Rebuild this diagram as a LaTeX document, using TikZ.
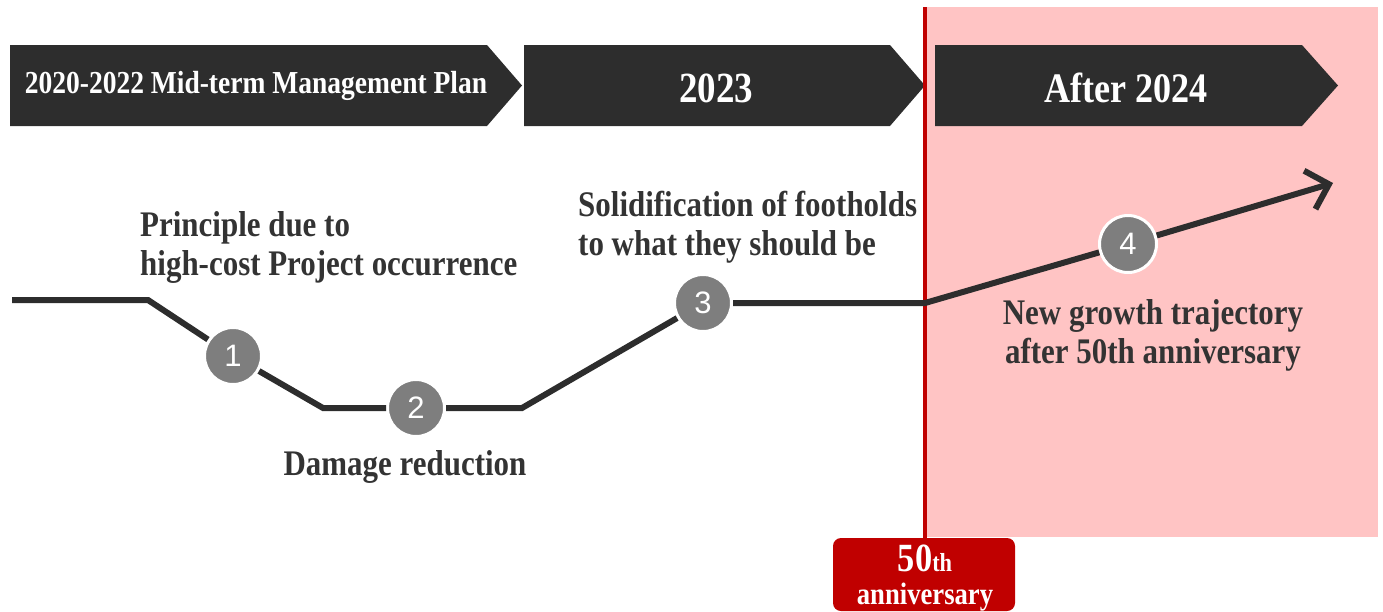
\documentclass[tikz,border=0pt]{standalone}
\usepackage{fontspec}
\setmainfont{Liberation Serif}[FakeStretch=0.86]
\newfontfamily\numfont{Liberation Sans}
\usetikzlibrary{positioning,arrows.meta}

\definecolor{bannergray}{HTML}{2D2D2D}
\definecolor{stepgray}{HTML}{7E7E7E}
\definecolor{annivred}{HTML}{C00000}
\definecolor{pinkzone}{HTML}{FFC4C4}
\definecolor{textgray}{HTML}{333333}

\tikzset{
  bannertext/.style={text=white,font=\bfseries\fontsize{32}{34}\selectfont,inner sep=0pt},
  steplabel/.style={text=textgray,font=\bfseries\fontsize{36}{39}\selectfont,inner sep=0pt},
  stepnum/.style={circle,fill=stepgray,draw=white,line width=3pt,minimum size=57pt,inner sep=0pt,
    text=white,font=\numfont\fontsize{31}{31}\selectfont},
  trend/.style={draw=bannergray,line width=6pt}
}

\begin{document}
\begin{tikzpicture}[x=1pt,y=-1pt]
  \useasboundingbox (0,0) rectangle (1383,611);

  % pink zone after the anniversary
  \fill[pinkzone] (925,7) rectangle (1378,537);

  % banners
  \fill[bannergray] (10,45) -- (487,45) -- (522,85.5) -- (487,126) -- (10,126) -- cycle;
  \fill[bannergray] (524,45) -- (890,45) -- (925,85.5) -- (890,126) -- (524,126) -- cycle;
  \fill[bannergray] (935,45) -- (1302,45) -- (1338,85.5) -- (1302,126) -- (935,126) -- cycle;
  \node[bannertext] (plan) at (256,86) {2020-2022 Mid-term Management Plan};
  \node[bannertext,font=\bfseries\fontsize{43}{44}\selectfont] (y2023) at (716,88) {2023};
  \node[bannertext,font=\bfseries\fontsize{42}{44}\selectfont] (y2024) at (1126,88) {After 2024};

  % 50th anniversary marker
  \draw[annivred,line width=4pt] (925,7) -- (925,545);
  \fill[annivred,rounded corners=8pt] (833,538) rectangle (1015,611);
  \node[text=white,inner sep=0pt,anchor=base,font=\bfseries\fontsize{26}{26}\selectfont] (fifty) at (925,571)
    {{\fontsize{40}{40}\selectfont 50}th};
  \node[text=white,inner sep=0pt,anchor=base,font=\bfseries\fontsize{31}{31}\selectfont] (anniv) at (925,604)
    {anniversary};

  % trend line
  \coordinate (start) at (12,300);
  \coordinate (b1) at (148,300);
  \coordinate (b2) at (323,408);
  \coordinate (b3) at (522,408);
  \coordinate (b4) at (925,303);
  \coordinate (tip) at (1333,183);
  \node[stepnum] (s1) at (233,356) {1};
  \node[stepnum] (s2) at (416,408) {2};
  \node[stepnum] (s3) at (703,303) {3};
  \node[stepnum] (s4) at (1128,244) {4};
  \draw[trend] (start) -- (b1) -- (s1);
  \draw[trend] (s1) -- (b2) -- (s2);
  \draw[trend] (s2) -- (b3) -- (s3);
  \draw[trend] (s3) -- (b4) -- (s4);
  \draw[trend,-{Straight Barb[length=20pt,width=40pt]}] (s4) -- (tip);

  % labels
  \node[steplabel,align=left,anchor=north west] (lab1) at (140,211) {Principle due to\\high-cost Project occurrence};
  \node[steplabel] (lab2) at (405,467) {Damage reduction};
  \node[steplabel,align=left,anchor=north west] (lab3) at (578,191) {Solidification of footholds\\to what they should be};
  \node[steplabel,align=center] (lab4) at (1153,335) {New growth trajectory\\after 50th anniversary};
\end{tikzpicture}
\end{document}
